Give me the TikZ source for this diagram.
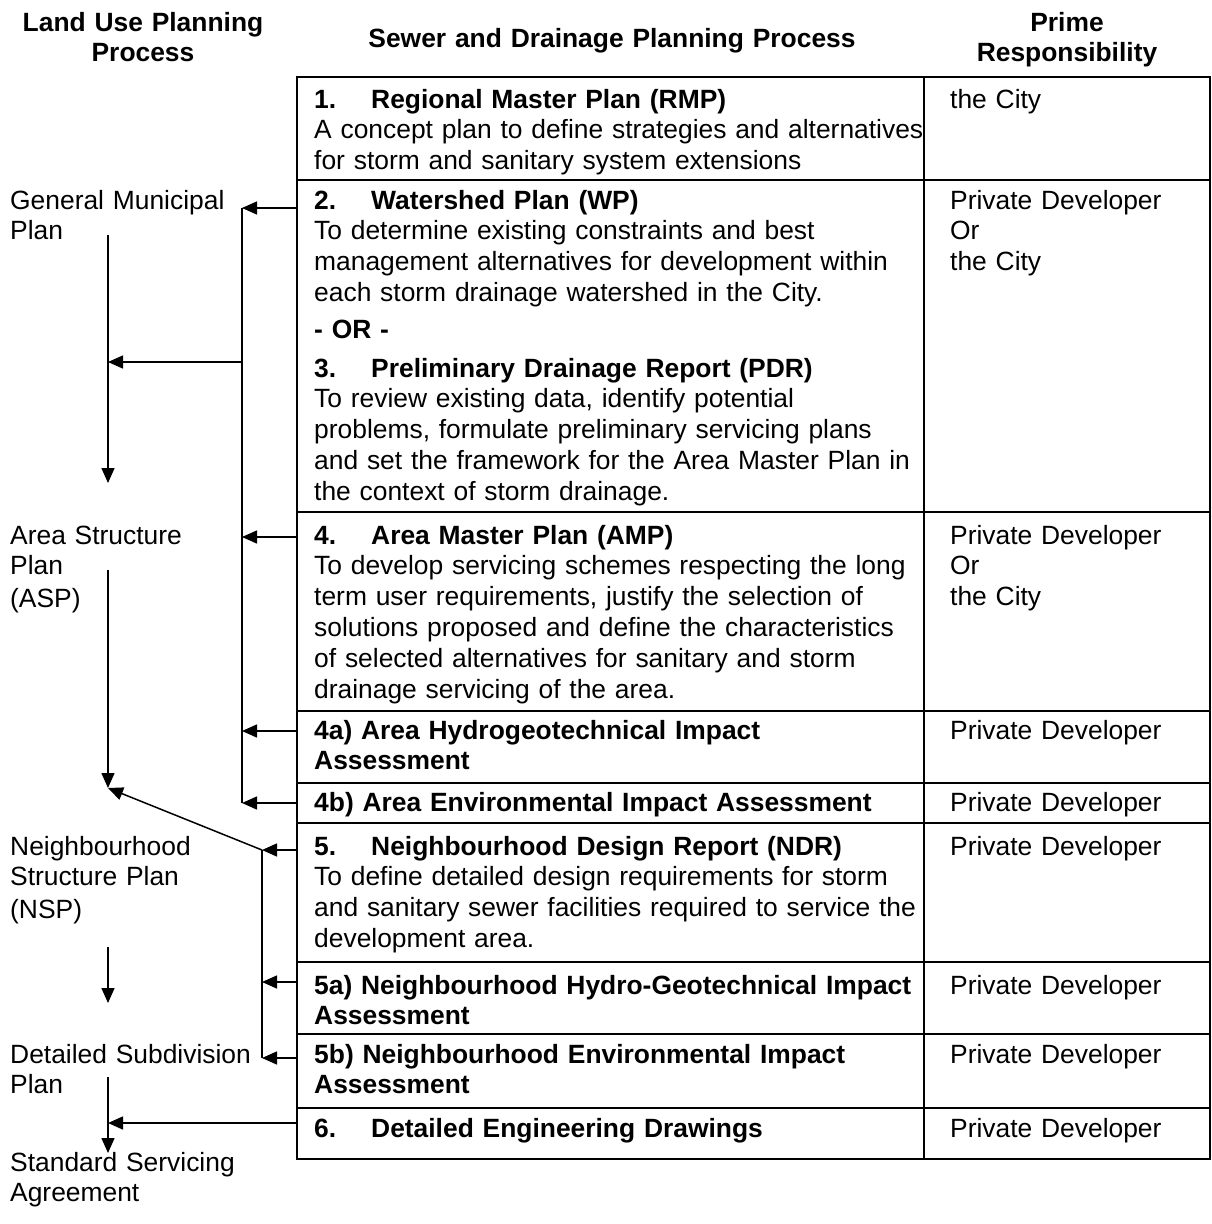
\documentclass[tikz,border=0pt]{standalone}
\usepackage{fontspec}
\setmainfont{Liberation Sans}
\usetikzlibrary{arrows.meta}
\newcommand{\stepno}[1]{\makebox[57pt][l]{#1}}
\newcommand{\bodysize}{\fontsize{26.4}{30.8}\selectfont\hyphenpenalty=10000\relax}
\tikzset{
  hdr/.style={anchor=base,inner sep=0pt,text width=600pt,align=center,font=\bodysize\bfseries},
  cell/.style={anchor=base west,inner sep=0pt,text width=700pt,align=left},
  resp/.style={anchor=base west,inner sep=0pt,text width=255pt,align=left},
  plan/.style={anchor=base west,inner sep=0pt,text width=285pt,align=left},
  grid/.style={line width=2.2pt},
  bus/.style={line width=1.5pt},
  arr/.style={line width=1.5pt,-{Triangle[length=15pt,width=13pt]}}
}

\begin{document}
\begin{tikzpicture}[x=1pt,y=-1pt,font=\bodysize]
  \useasboundingbox[fill=white] (0,0) rectangle (1212,1224);

  % column heads
  \node[hdr] (hland) at (143,31) {Land Use Planning\\Process};
  \node[hdr] (hsewer) at (612,47) {Sewer and Drainage Planning Process};
  \node[hdr] (hprime) at (1067,31) {Prime\\Responsibility};

  % table
  \draw[grid] (297,77) rectangle (1210,1159);
  \draw[grid] (924,77) -- (924,1159);
  \foreach \y in {180,512,711,783,823,962,1034,1108}{\draw[grid] (297,\y) -- (1210,\y);}

  % sewer and drainage steps
  \node[cell] (rmp) at (314,108) {\textbf{\stepno{1.}Regional Master Plan (RMP)}\\A concept plan to define strategies and alternatives\\for storm and sanitary system extensions};
  \node[cell] (wp) at (314,209) {\textbf{\stepno{2.}Watershed Plan (WP)}\\To determine existing constraints and best\\management alternatives for development within\\each storm drainage watershed in the City.};
  \node[cell] (or) at (314,338) {\textbf{- OR -}};
  \node[cell] (pdr) at (314,377) {\textbf{\stepno{3.}Preliminary Drainage Report (PDR)}\\To review existing data, identify potential\\problems, formulate preliminary servicing plans\\and set the framework for the Area Master Plan in\\the context of storm drainage.};
  \node[cell] (amp) at (314,544) {\textbf{\stepno{4.}Area Master Plan (AMP)}\\To develop servicing schemes respecting the long\\term user requirements, justify the selection of\\solutions proposed and define the characteristics\\of selected alternatives for sanitary and storm\\drainage servicing of the area.};
  \node[cell] (ahia) at (314,739) {\textbf{4a) Area Hydrogeotechnical Impact}\\\textbf{Assessment}};
  \node[cell] (aeia) at (314,811) {\textbf{4b) Area Environmental Impact Assessment}};
  \node[cell] (ndr) at (314,855) {\textbf{\stepno{5.}Neighbourhood Design Report (NDR)}\\To define detailed design requirements for storm\\and sanitary sewer facilities required to service the\\development area.};
  \node[cell] (nhia) at (314,994) {\textbf{5a) Neighbourhood Hydro-Geotechnical Impact}\\\textbf{Assessment}};
  \node[cell] (neia) at (314,1063) {\textbf{5b) Neighbourhood Environmental Impact}\\\textbf{Assessment}};
  \node[cell] (ded) at (314,1137) {\textbf{\stepno{6.}Detailed Engineering Drawings}};

  % responsibility
  \node[resp] (p1) at (950,108) {the City};
  \node[resp] (p2) at (950,209) {Private Developer\\Or\\the City};
  \node[resp] (p4) at (950,544) {Private Developer\\Or\\the City};
  \node[resp] (p4a) at (950,739) {Private Developer};
  \node[resp] (p4b) at (950,811) {Private Developer};
  \node[resp] (p5) at (950,855) {Private Developer};
  \node[resp] (p5a) at (950,994) {Private Developer};
  \node[resp] (p5b) at (950,1063) {Private Developer};
  \node[resp] (p6) at (950,1137) {Private Developer};

  % land use plans
  \node[plan] (gmp) at (10,209) {General Municipal\\Plan};
  \node[plan] (asp) at (10,544) {Area Structure\\Plan\\[2pt](ASP)};
  \node[plan] (nsp) at (10,855) {Neighbourhood\\Structure Plan\\[2pt](NSP)};
  \node[plan] (dsp) at (10,1063) {Detailed Subdivision\\Plan};
  \node[plan] (ssa) at (10,1171) {Standard Servicing\\Agreement};

  % connectors
  \coordinate (s2) at (297,208);
  \coordinate (s4) at (297,537);
  \coordinate (s4a) at (297,731);
  \coordinate (s4b) at (297,803);
  \coordinate (s5) at (297,850);
  \coordinate (s5a) at (297,982);
  \coordinate (s5b) at (297,1058);
  \coordinate (s6) at (297,1123);
  \coordinate (bus1) at (242,362);
  \coordinate (bus2) at (262,850);
  \coordinate (gmpend) at (108,235);
  \coordinate (asptop) at (108,483);
  \coordinate (aspend) at (108,570);
  \coordinate (nsptop) at (108,788);
  \coordinate (nspend) at (108,947);
  \coordinate (dsptop) at (108,1003);
  \coordinate (dspend) at (108,1077);
  \coordinate (ssatop) at (108,1153);

  \foreach \s in {s2,s4,s4a,s4b}{\draw[arr] (\s) -- (\s -| bus1);}
  \draw[bus] (s2 -| bus1) -- (s4b -| bus1);
  \draw[arr] (bus1) -- (bus1 -| gmpend);
  \foreach \s in {s5,s5a,s5b}{\draw[arr] (\s) -- (\s -| bus2);}
  \draw[bus] (bus2) -- (s5b -| bus2);
  \draw[arr] (bus2) -- (nsptop);
  \draw[arr] (s6) -- (s6 -| ssatop);

  \draw[arr] (gmpend) -- (asptop);
  \draw[arr] (aspend) -- (nsptop);
  \draw[arr] (nspend) -- (dsptop);
  \draw[arr] (dspend) -- (ssatop);
\end{tikzpicture}
\end{document}
